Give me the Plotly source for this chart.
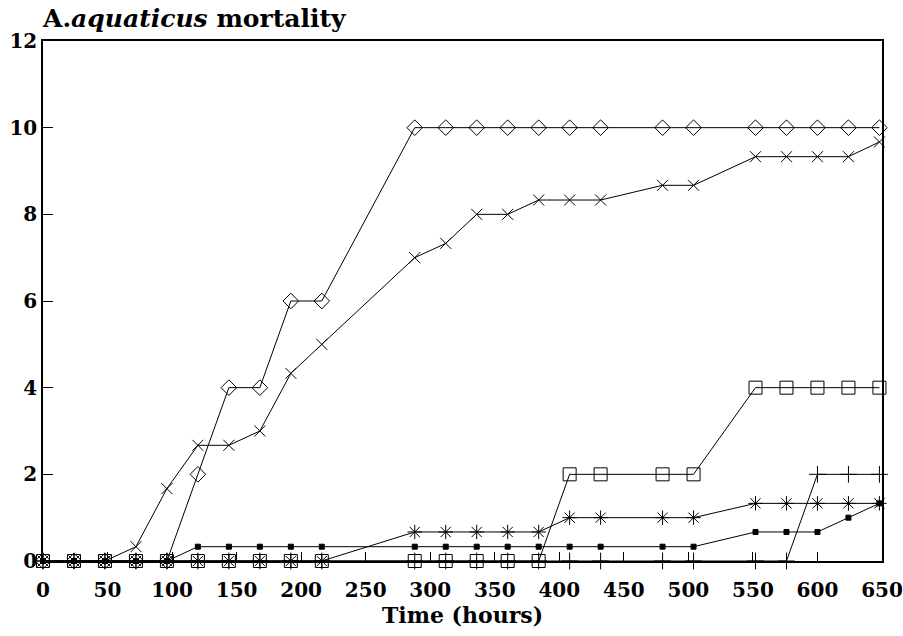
import plotly.graph_objects as go

# Sampling times (hours)
time_h = [0, 24, 48, 72, 96, 120, 144, 168, 192, 216, 288, 312, 336, 360, 384,
          408, 432, 480, 504, 552, 576, 600, 624, 648]

# Mortality series
s_diamond = [0, 0, 0, 0, 0, 2, 4, 4, 6, 6, 10, 10, 10, 10, 10,
             10, 10, 10, 10, 10, 10, 10, 10, 10]
s_x = [0, 0, 0, 0.33, 1.67, 2.67, 2.67, 3, 4.33, 5, 7, 7.33, 8, 8, 8.33,
       8.33, 8.33, 8.67, 8.67, 9.33, 9.33, 9.33, 9.33, 9.67]
s_square = [0, 0, 0, 0, 0, 0, 0, 0, 0, 0, 0, 0, 0, 0, 0,
            2, 2, 2, 2, 4, 4, 4, 4, 4]
s_asterisk = [0, 0, 0, 0, 0, 0, 0, 0, 0, 0, 0.67, 0.67, 0.67, 0.67, 0.67,
              1, 1, 1, 1, 1.33, 1.33, 1.33, 1.33, 1.33]
s_smallsq = [0, 0, 0, 0, 0, 0.33, 0.33, 0.33, 0.33, 0.33, 0.33, 0.33, 0.33, 0.33, 0.33,
             0.33, 0.33, 0.33, 0.33, 0.67, 0.67, 0.67, 1, 1.33]
s_plus = [0, 0, 0, 0, 0, 0, 0, 0, 0, 0, 0, 0, 0, 0, 0,
          0, 0, 0, 0, 0, 0, 2, 2, 2]

x_ticks = list(range(0, 651, 50))
y_ticks = [0, 2, 4, 6, 8, 10, 12]
y_tick_text = ["0", "2", "4", "6", "8", "10", "12"]

title_html = "A.<i>aquaticus</i> mortality"
x_title = "Time (hours)"

FONT = "DejaVu Serif"
FIG_W, FIG_H = 903, 636

series = [
    (s_plus, "cross-thin-open", 12),
    (s_smallsq, "square", 5),
    (s_asterisk, "asterisk-open", 12),
    (s_square, "square-open", 13),
    (s_x, "x-thin-open", 11),
    (s_diamond, "diamond-open", 12),
]

fig = go.Figure()
for vals, sym, sz in series:
    fig.add_trace(go.Scatter(
        x=time_h, y=vals, mode="lines+markers",
        line=dict(color="black", width=1),
        marker=dict(symbol=sym, size=sz, color="black",
                    line=dict(color="black", width=1)),
        showlegend=False, hoverinfo="skip", cliponaxis=False,
    ))

fig.update_layout(
    width=FIG_W, height=FIG_H,
    margin=dict(l=43, r=21, t=41, b=75),
    paper_bgcolor="white", plot_bgcolor="white",
    font=dict(family=FONT, color="black"),
    title=dict(text=title_html, x=43 / FIG_W, xanchor="left", xref="container",
               y=1 - 18 / FIG_H, yanchor="middle", yref="container",
               font=dict(family=FONT, size=25, color="black", weight="bold")),
)

fig.update_xaxes(
    range=[0, 650], tickvals=x_ticks, ticktext=[str(v) for v in x_ticks],
    ticks="inside", ticklen=9, tickwidth=1, tickcolor="black",
    showline=True, linecolor="black", linewidth=1.5, mirror=True,
    showgrid=False, zeroline=False, automargin=False,
    tickfont=dict(family=FONT, size=20, color="black", weight="bold"),
    ticklabelstandoff=10,
    title=dict(text=x_title, standoff=0,
               font=dict(family=FONT, size=22, color="black", weight="bold")),
)
fig.update_yaxes(
    range=[0, 12], tickvals=y_ticks, ticktext=y_tick_text,
    ticks="inside", ticklen=10, tickwidth=1, tickcolor="black",
    showline=True, linecolor="black", linewidth=1.5, mirror=True,
    showgrid=False, zeroline=False, automargin=False,
    tickfont=dict(family=FONT, size=20, color="black", weight="bold"),
    ticklabelstandoff=0,
)

# Remove the default 8px page margin so the figure fills the window exactly.
fig.write_html(
    "out.html",
    config={"displayModeBar": False},
    post_script="document.body.style.margin='0';document.body.style.overflow='hidden';",
)
